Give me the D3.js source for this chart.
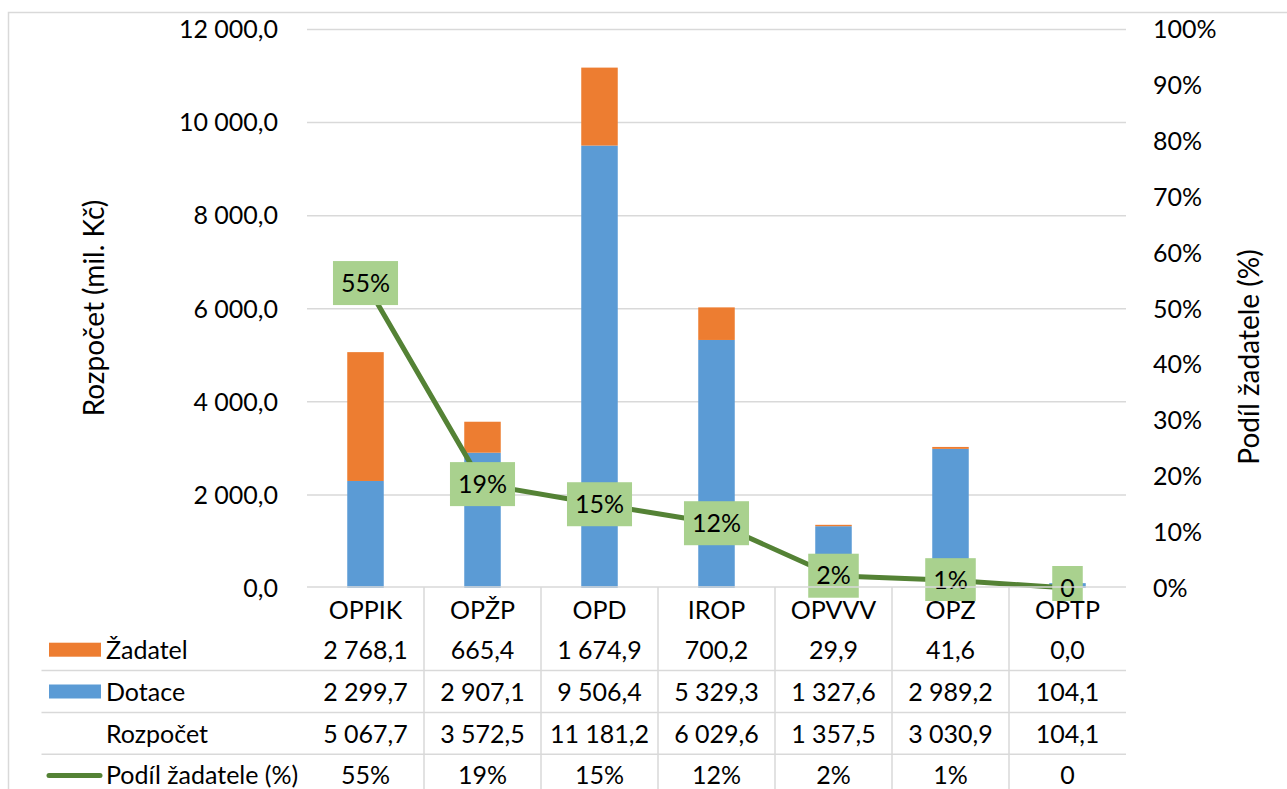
<!DOCTYPE html>
<html>
<head>
<meta charset="utf-8">
<script src="https://cdn.jsdelivr.net/npm/d3@7"></script>
<style>
  body { margin: 0; background: #fff; }
  text { font-family: Lato, "Open Sans", sans-serif; fill: #000; }
</style>
</head>
<body>
<script>
// data
const categories = ['OPPIK', 'OPŽP', 'OPD', 'IROP', 'OPVVV', 'OPZ', 'OPTP'];
const zadatel = [2768.1, 665.4, 1674.9, 700.2, 29.9, 41.6, 0.0];
const dotace = [2299.7, 2907.1, 9506.4, 5329.3, 1327.6, 2989.2, 104.1];
const rozpocet = [5067.7, 3572.5, 11181.2, 6029.6, 1357.5, 3030.9, 104.1];
const podil = [0.546, 0.186, 0.150, 0.116, 0.022, 0.014, 0];
const podilLabels = ['55%', '19%', '15%', '12%', '2%', '1%', '0'];
const leftTicks = [0, 2000, 4000, 6000, 8000, 10000, 12000];
const rightTicks = [0, .1, .2, .3, .4, .5, .6, .7, .8, .9, 1];

const width = 1287, height = 789;
const orange = '#ED7D31', blue = '#5B9BD5', green = '#548235', labelFill = '#A9D18E';
const fontSize = 25;
const titleSize = 28;

const svg = d3.select('body').append('svg')
    .attr('width', width)
    .attr('height', height);

// chart border
svg.append('rect')
    .attr('x', 8.5).attr('y', 12.5)
    .attr('width', width + 10).attr('height', height + 10)
    .attr('fill', 'none').attr('stroke', '#D9D9D9').attr('stroke-width', 1.5);

const x = d3.scaleBand().domain(categories).range([307, 1126]).paddingInner(0).paddingOuter(0);
const y = d3.scaleLinear().domain([0, 12000]).range([588, 29.5]);
const y2 = d3.scaleLinear().domain([0, 1]).range([588, 29.5]);
const barW = 36.5;

const fmt = v => d3.format(',.1f')(v).replace(/,/g, ' ').replace('.', ',');

// gridlines
svg.append('g')
    .selectAll('line')
    .data(leftTicks.slice(1))
    .join('line')
    .attr('x1', 307).attr('x2', 1126)
    .attr('y1', d => y(d)).attr('y2', d => y(d))
    .attr('stroke', '#D9D9D9').attr('stroke-width', 1.5);

// left axis labels
svg.append('g')
    .attr('text-anchor', 'end')
    .style('font-size', fontSize + 'px')
    .selectAll('text')
    .data(leftTicks)
    .join('text')
    .attr('x', 278)
    .attr('y', d => y(d))
    .attr('dy', '0.35em')
    .text(d => fmt(d));

// right axis labels
svg.append('g')
    .style('font-size', fontSize + 'px')
    .selectAll('text')
    .data(rightTicks)
    .join('text')
    .attr('x', 1153)
    .attr('y', d => y2(d))
    .attr('dy', '0.35em')
    .text(d => Math.round(d * 100) + '%');

// axis titles
svg.append('text')
    .attr('transform', 'translate(94,308) rotate(-90)')
    .attr('text-anchor', 'middle').attr('dy', '0.35em')
    .style('font-size', titleSize + 'px')
    .text('Rozpočet (mil. Kč)');

svg.append('text')
    .attr('transform', 'translate(1249,357) rotate(-90)')
    .attr('text-anchor', 'middle').attr('dy', '0.35em')
    .style('font-size', titleSize + 'px')
    .text('Podíl žadatele (%)');

// stacked bars
const stack = d3.stack().keys(['dotace', 'zadatel'])(
    categories.map((c, i) => ({cat: c, dotace: dotace[i], zadatel: zadatel[i]})));
const barColors = {dotace: blue, zadatel: orange};

svg.append('g')
    .selectAll('g')
    .data(stack)
    .join('g')
    .attr('fill', d => barColors[d.key])
    .selectAll('rect')
    .data(d => d)
    .join('rect')
    .attr('x', d => x(d.data.cat) + x.bandwidth() / 2 - barW / 2)
    .attr('width', barW)
    .attr('y', d => y(d[1]))
    .attr('height', d => y(d[0]) - y(d[1]));

// share line
const line = d3.line()
    .x((d, i) => x(categories[i]) + x.bandwidth() / 2)
    .y(d => y2(d));

svg.append('path')
    .datum(podil)
    .attr('d', line)
    .attr('fill', 'none')
    .attr('stroke', green)
    .attr('stroke-width', 5)
    .attr('stroke-linejoin', 'round');

// clip for data labels
svg.append('clipPath').attr('id', 'plotClip')
    .append('rect').attr('x', 0).attr('y', 0).attr('width', width).attr('height', 601);

const lbl = svg.append('g').attr('clip-path', 'url(#plotClip)')
    .selectAll('g')
    .data(podil)
    .join('g')
    .attr('transform', (d, i) => `translate(${x(categories[i]) + x.bandwidth() / 2},${y2(d)})`);

lbl.append('text')
    .attr('text-anchor', 'middle')
    .attr('dy', '0.35em')
    .style('font-size', fontSize + 'px')
    .text((d, i) => podilLabels[i])
    .each(function () {
        const bb = this.getBBox();
        d3.select(this.parentNode).insert('rect', 'text')
            .attr('x', -bb.width / 2 - 8)
            .attr('width', bb.width + 16)
            .attr('y', -22)
            .attr('height', 44)
            .attr('fill', labelFill);
    });

// data table
const rowTop = 587;
const rowH = 41.8;
const table = svg.append('g');

// horizontal row lines
table.selectAll('line.h')
    .data([0, 2, 3, 4, 5])
    .join('line')
    .attr('x1', d => d === 0 ? 307 : 41.5)
    .attr('x2', 1126)
    .attr('y1', d => rowTop + d * rowH)
    .attr('y2', d => rowTop + d * rowH)
    .attr('stroke', '#D9D9D9').attr('stroke-width', 1.5);

// vertical column lines
table.selectAll('line.v')
    .data(categories.slice(1))
    .join('line')
    .attr('x1', d => x(d)).attr('x2', d => x(d))
    .attr('y1', rowTop).attr('y2', height)
    .attr('stroke', '#D9D9D9').attr('stroke-width', 1.5);

// header (category axis)
table.append('g')
    .attr('text-anchor', 'middle')
    .style('font-size', fontSize + 'px')
    .selectAll('text')
    .data(categories)
    .join('text')
    .attr('x', d => x(d) + x.bandwidth() / 2)
    .attr('y', rowTop + rowH / 2 + 2)
    .attr('dy', '0.35em')
    .text(d => d);

const rows = [
    {name: 'Žadatel', values: zadatel.map(fmt), key: 'rect', color: orange},
    {name: 'Dotace', values: dotace.map(fmt), key: 'rect', color: blue},
    {name: 'Rozpočet', values: rozpocet.map(fmt), key: null},
    {name: 'Podíl žadatele (%)', values: podilLabels, key: 'line', color: green}
];

rows.forEach((r, ri) => {
    const cy = rowTop + (ri + 1) * rowH + rowH / 2 + 0.5;
    const g = table.append('g').style('font-size', fontSize + 'px');
    if (r.key === 'rect') {
        g.append('rect')
            .attr('x', 49).attr('y', cy - 7.5)
            .attr('width', 52).attr('height', 14)
            .attr('fill', r.color);
    } else if (r.key === 'line') {
        g.append('line')
            .attr('x1', 49).attr('x2', 100)
            .attr('y1', cy).attr('y2', cy)
            .attr('stroke', r.color).attr('stroke-width', 5)
            .attr('stroke-linecap', 'round');
    }
    g.append('text')
        .attr('x', 106)
        .attr('y', cy)
        .attr('dy', '0.35em')
        .text(r.name);
    g.selectAll('text.v')
        .data(r.values)
        .join('text')
        .attr('text-anchor', 'middle')
        .attr('x', (d, i) => x(categories[i]) + x.bandwidth() / 2)
        .attr('y', cy)
        .attr('dy', '0.35em')
        .text(d => d);
});
</script>
</body>
</html>
